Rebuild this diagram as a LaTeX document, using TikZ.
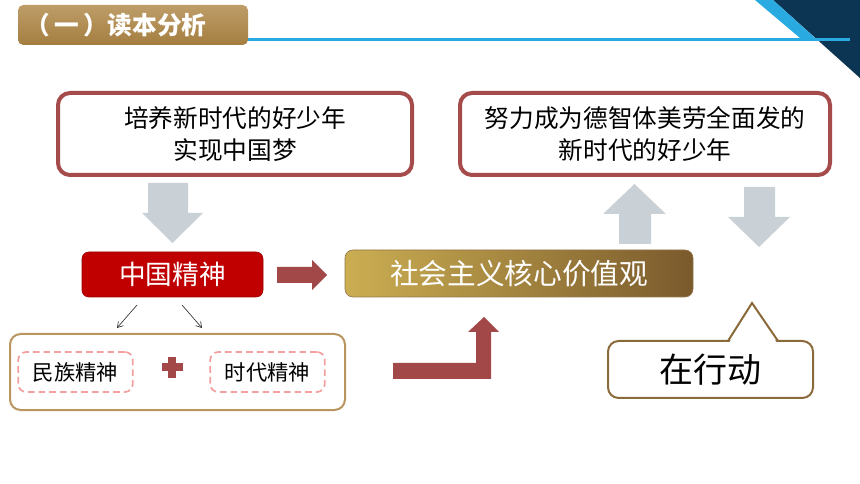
\documentclass[tikz,border=0pt]{standalone}
\usepackage{fontspec}
\setmainfont{Noto Sans CJK SC}
\usetikzlibrary{arrows.meta}
\definecolor{boxred}{HTML}{A54B4B}
\definecolor{arrred}{HTML}{A24848}
\definecolor{arrgray}{HTML}{C9D1D6}
\definecolor{cnred}{HTML}{C00000}
\definecolor{goldL}{HTML}{CBAE52}
\definecolor{goldR}{HTML}{7A5A2C}
\definecolor{tan}{HTML}{B8965E}
\definecolor{callbrown}{HTML}{8B6A3A}
\definecolor{dashpink}{HTML}{F4A0A0}
\definecolor{skyblue}{HTML}{29ABE2}
\definecolor{navy}{HTML}{0B3552}
\definecolor{titleT}{HTML}{BE9D68}
\definecolor{titleB}{HTML}{A47E40}
\tikzset{
  bigbox/.style={draw=boxred, line width=3pt, rounded corners=9pt, fill=white,
    align=center, inner sep=0pt, font=\fontsize{18.5pt}{24pt}\selectfont},
  dashbox/.style={draw=dashpink, line width=1.3pt, dash pattern=on 5pt off 3pt,
    rounded corners=6pt, minimum width=86pt, minimum height=30pt, inner sep=0pt,
    font=\fontsize{16pt}{18pt}\selectfont},
  grayarrow/.style={fill=arrgray},
  redarrow/.style={fill=arrred},
  thinarrow/.style={draw=black!80, line width=0.5pt, -{Straight Barb[length=4pt,width=5pt]}}
}
\begin{document}
\begin{tikzpicture}[x=0.75pt,y=-0.75pt]
\useasboundingbox (0,0) rectangle (860,484);
\fill[white] (0,0) rectangle (860,484);
% top-right decoration
\fill[navy] (773,0) -- (860,0) -- (860,78) -- cycle;
\fill[skyblue] (755,0) -- (773,0) -- (815,38) -- (800,38) -- cycle;
\fill[skyblue] (18,38.5) rectangle (850,41.5);
% title
\node[draw=none, top color=titleT, bottom color=titleB, rounded corners=4pt,
  minimum width=172.5pt, minimum height=30pt, inner sep=0pt] (title) at (133,25) {};
\node[text=white, font=\fontsize{18.5pt}{20pt}\selectfont\bfseries, anchor=west] (titletext) at (21,25.5)
  {（\,一\,）读本分析};
% top boxes
\node[bigbox, minimum width=265.5pt, minimum height=61.5pt] (goal1) at (235,134)
  {培养新时代的好少年\\实现中国梦};
\node[bigbox, minimum width=277.5pt, minimum height=61.5pt] (goal2) at (645,134)
  {努力成为德智体美劳全面发的\\新时代的好少年};
% gray arrows
\fill[grayarrow] (148,183) -- (188,183) -- (188,213) -- (203,213) -- (172.5,243) -- (142,213) -- (148,213) -- cycle;
\fill[grayarrow] (619,244) -- (651,244) -- (651,214) -- (666,214) -- (634.5,184) -- (603,214) -- (619,214) -- cycle;
\fill[grayarrow] (744,187) -- (775,187) -- (775,217) -- (790,217) -- (759,247) -- (728,217) -- (744,217) -- cycle;
% china spirit
\node[fill=cnred, draw=cnred!80!black, line width=0.4pt, rounded corners=5pt, minimum width=135.75pt, minimum height=33.75pt,
  inner sep=0pt, text=white, font=\fontsize{20pt}{22pt}\selectfont] (zg) at (172.5,274.5) {中国精神};
% red right arrow
\fill[redarrow] (277,267) -- (312,267) -- (312,260) -- (327,275) -- (312,290) -- (312,283) -- (277,283) -- cycle;
% core values
\node[left color=goldL, right color=goldR, draw=tan!80!black, line width=0.5pt, rounded corners=6pt,
  minimum width=261pt, minimum height=35.25pt, inner sep=0pt, text=white,
  font=\fontsize{21.5pt}{23pt}\selectfont] (core) at (519,273.5) {社会主义核心价值观};
% thin arrows
\coordinate (s1) at (137,305);
\coordinate (e1) at (117,328);
\coordinate (s2) at (182,305);
\coordinate (e2) at (202,328);
\draw[thinarrow] (s1) -- (e1);
\draw[thinarrow] (s2) -- (e2);
% bottom-left group
\node[draw=tan, line width=1.5pt, rounded corners=8pt, fill=white, minimum width=251.25pt,
  minimum height=57pt, inner sep=0pt] (group) at (177.5,372) {};
\node[dashbox] (mz) at (75.5,372) {民族精神};
\node[dashbox] (sd) at (267.5,372) {时代精神};
\fill[arrred] (162,363) rectangle (183,371);
\fill[arrred] (168,357) rectangle (176,378);
% L arrow
\fill[redarrow] (393,363) -- (476,363) -- (476,332) -- (468,332) -- (484,317) -- (499,332) -- (491,332) -- (491,379) -- (393,379) -- cycle;
% callout
\node[draw=callbrown, line width=1.5pt, rounded corners=8pt, fill=white, minimum width=153.75pt,
  minimum height=42.75pt, inner sep=0pt, font=\fontsize{25.5pt}{27pt}\selectfont] (act) at (710.5,369.5) {在行动};
\fill[white] (729,343) -- (752,305) -- (777,343) -- cycle;
\draw[callbrown, line width=1.5pt, line join=miter] (728,341) -- (752,303) -- (778,341);
\end{tikzpicture}
\end{document}
